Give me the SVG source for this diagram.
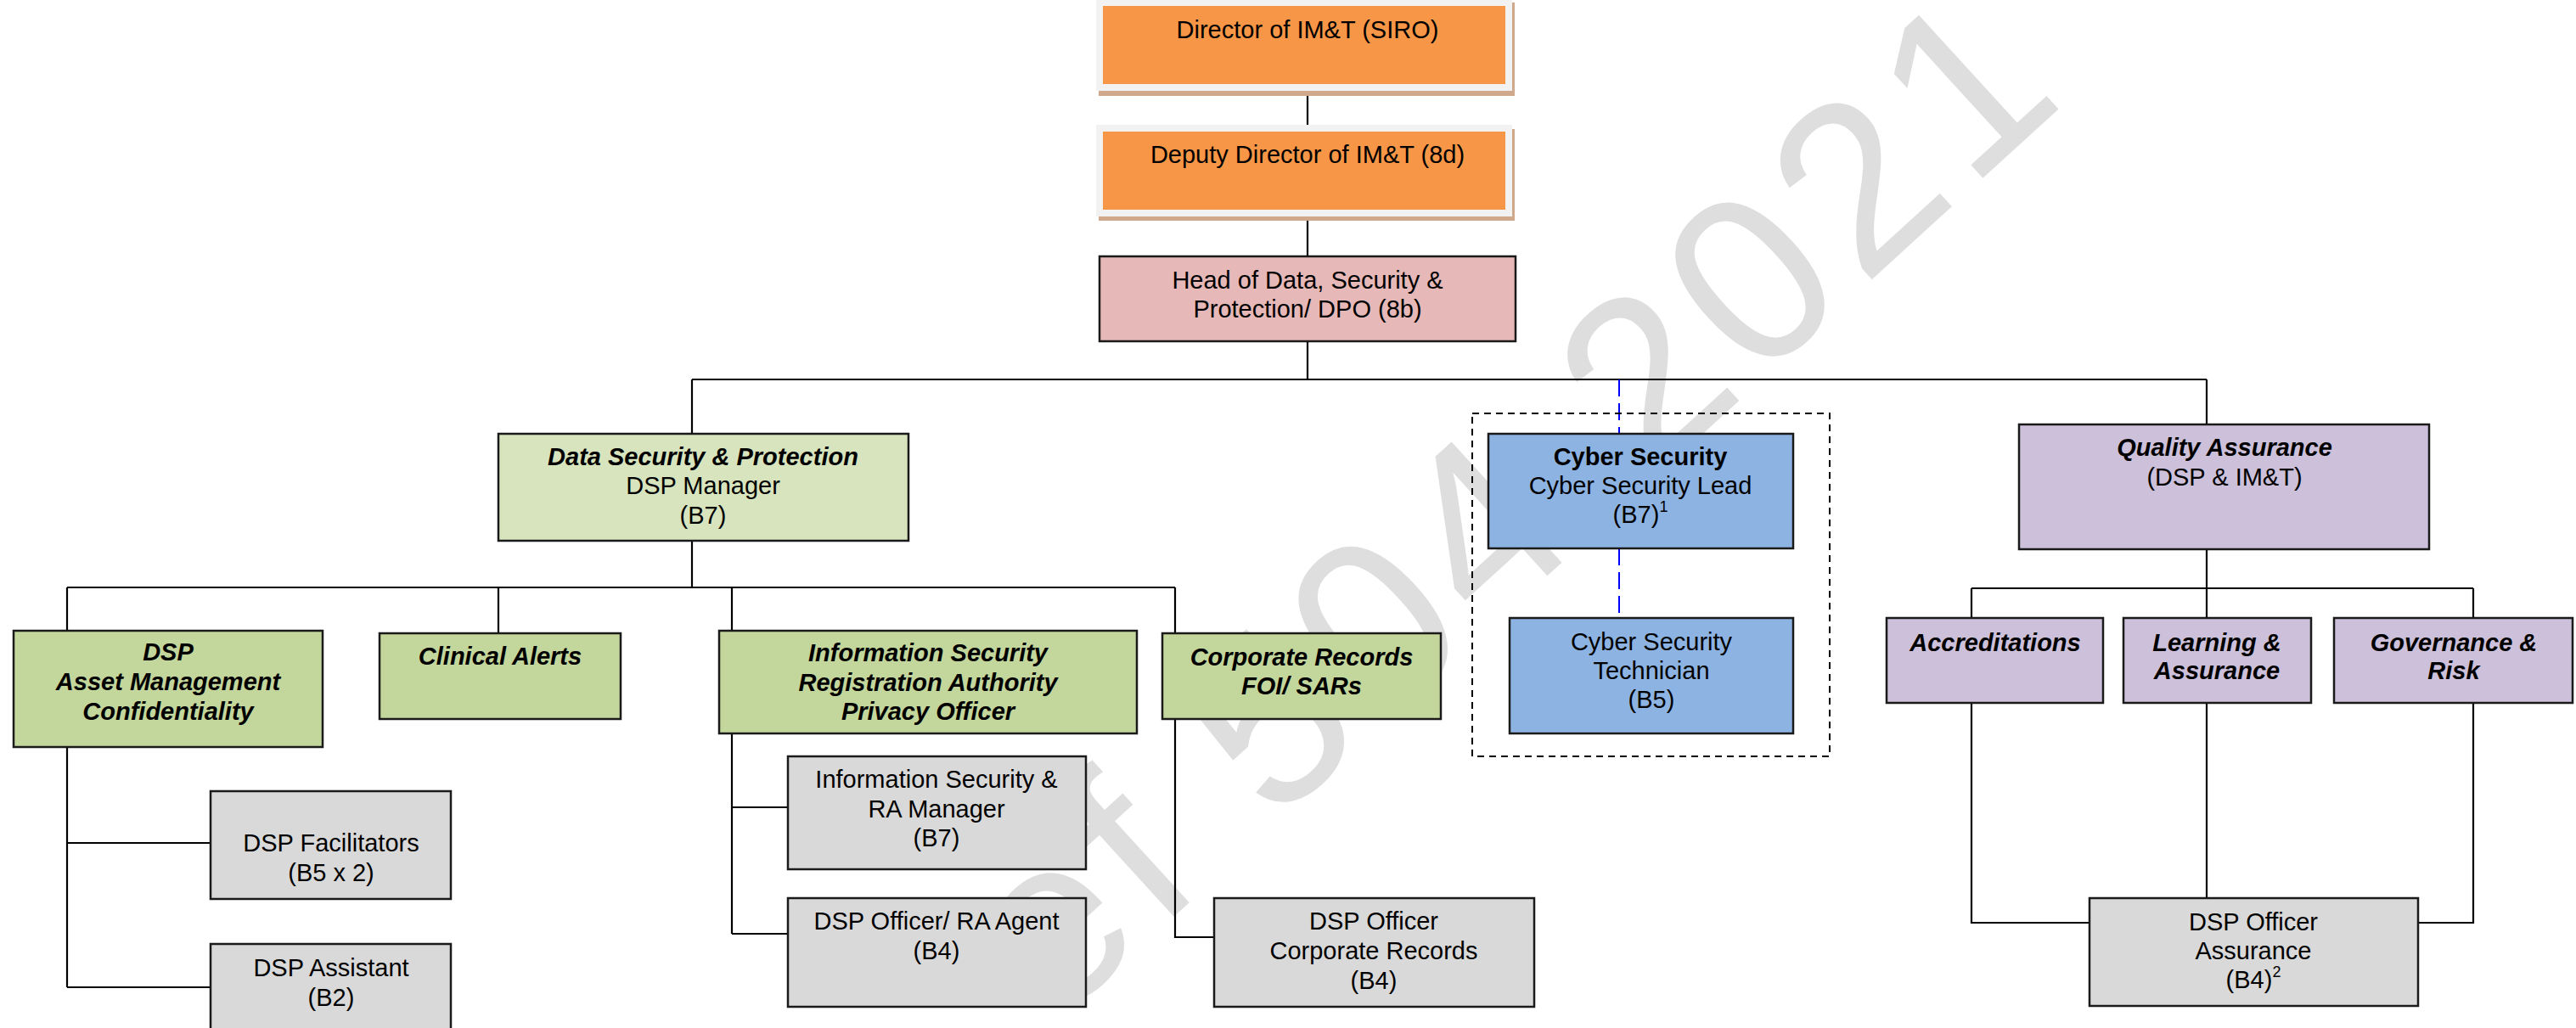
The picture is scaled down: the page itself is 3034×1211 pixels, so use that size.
<svg xmlns="http://www.w3.org/2000/svg" width="3034" height="1211" viewBox="0 0 3034 1211">
<style>
text{font-family:"Liberation Sans",Arial,sans-serif;font-size:29px;fill:#000;text-anchor:middle}
.bi{font-weight:bold;font-style:italic}
.b{font-weight:bold}
.box{stroke:#1a1a1a;stroke-width:2.5}
.or{fill:#f79646}
.pk{fill:#e6b8b7}
.lg{fill:#d7e4bd}
.gr{fill:#c3d69b}
.bl{fill:#8db3e2}
.pu{fill:#ccc0da}
.gy{fill:#d9d9d9}
.frame{fill:#f2f2f2}
.shadow{fill:#d0a98c}
.ln{stroke:#000;stroke-width:2.2;fill:none}
.dash{stroke:#0000ff;stroke-width:2;stroke-dasharray:20 8;fill:none}
.grp{stroke:#000;stroke-width:2;stroke-dasharray:8 6;fill:none}
.wm{font-size:280px;fill:#dedede;text-anchor:start;letter-spacing:14px}
.sup{font-size:18px}
</style>
<rect width="3034" height="1211" fill="#fff"/>
<g id="watermark">
<text class="wm" transform="translate(1239,1211) rotate(-42.4)">ef 504 2021</text>
</g>
<g id="connectors">
<path class="ln" d="M1540 107V147M1540 255V302M1540 402V447M815 447H2599M815 447V511M2599 447V500"/>
<path class="dash" d="M1907 447V511M1907 646V728"/>
<path class="ln" d="M815 637V692M79 692H1384M79 692V743M587 692V746M862 692V743M1384 692V746"/>
<path class="ln" d="M79 880V1163M79 993H248M79 1163H248"/>
<path class="ln" d="M862 864V1100M862 951H928M862 1100H928"/>
<path class="ln" d="M1384 847V1104H1430"/>
<path class="ln" d="M2599 647V693M2322 693H2913M2322 693V728M2599 693V728M2913 693V728"/>
<path class="ln" d="M2322 828V1087H2461M2599 828V1058M2913 828V1087H2848"/>
<rect class="grp" x="1734" y="487" width="421" height="404"/>
</g>
<g id="director">
<rect class="shadow" x="1294" y="3" width="490" height="110"/>
<rect class="frame" x="1291" y="-3" width="490" height="110"/>
<rect class="or" x="1299" y="7" width="474" height="92"/>
<text x="1540" y="45">Director of IM&amp;T (SIRO)</text>
</g>
<g id="deputy">
<rect class="shadow" x="1294" y="152" width="490" height="108"/>
<rect class="frame" x="1291" y="147" width="490" height="108"/>
<rect class="or" x="1299" y="155" width="474" height="92"/>
<text x="1540" y="192">Deputy Director of IM&amp;T (8d)</text>
</g>
<g id="head">
<rect class="box pk" x="1295" y="302" width="490" height="100"/>
<text x="1540" y="340">Head of Data, Security &amp;</text>
<text x="1540" y="374">Protection/ DPO (8b)</text>
</g>
<g id="dsp-manager">
<rect class="box lg" x="587" y="511" width="483" height="126"/>
<text x="828" y="548" class="bi">Data Security &amp; Protection</text>
<text x="828" y="582">DSP Manager</text>
<text x="828" y="617">(B7)</text>
</g>
<g id="dsp-asset">
<rect class="box gr" x="16" y="743" width="364" height="137"/>
<text x="198" y="778" class="bi">DSP</text>
<text x="198" y="813" class="bi">Asset Management</text>
<text x="198" y="848" class="bi">Confidentiality</text>
</g>
<g id="clinical-alerts">
<rect class="box gr" x="447" y="746" width="284" height="101"/>
<text x="589" y="783" class="bi">Clinical Alerts</text>
</g>
<g id="infosec">
<rect class="box gr" x="847" y="743" width="492" height="121"/>
<text x="1093" y="779" class="bi">Information Security</text>
<text x="1093" y="814" class="bi">Registration Authority</text>
<text x="1093" y="848" class="bi">Privacy Officer</text>
</g>
<g id="corporate-records">
<rect class="box gr" x="1369" y="746" width="328" height="101"/>
<text x="1533" y="784" class="bi">Corporate Records</text>
<text x="1533" y="818" class="bi">FOI/ SARs</text>
</g>
<g id="cyber-lead">
<rect class="box bl" x="1753" y="511" width="359" height="135"/>
<text x="1932" y="548" class="b">Cyber Security</text>
<text x="1932" y="582">Cyber Security Lead</text>
<text x="1932" y="616">(B7)<tspan class="sup" dy="-13">1</tspan></text>
</g>
<g id="cyber-tech">
<rect class="box bl" x="1778" y="728" width="334" height="136"/>
<text x="1945" y="766">Cyber Security</text>
<text x="1945" y="800">Technician</text>
<text x="1945" y="834">(B5)</text>
</g>
<g id="quality-assurance">
<rect class="box pu" x="2378" y="500" width="483" height="147"/>
<text x="2620" y="537" class="bi">Quality Assurance</text>
<text x="2620" y="572">(DSP &amp; IM&amp;T)</text>
</g>
<g id="accreditations">
<rect class="box pu" x="2222" y="728" width="255" height="100"/>
<text x="2350" y="767" class="bi">Accreditations</text>
</g>
<g id="learning">
<rect class="box pu" x="2501" y="728" width="221" height="100"/>
<text x="2611" y="767" class="bi">Learning &amp;</text>
<text x="2611" y="800" class="bi">Assurance</text>
</g>
<g id="governance">
<rect class="box pu" x="2749" y="728" width="281" height="100"/>
<text x="2890" y="767" class="bi">Governance &amp;</text>
<text x="2890" y="800" class="bi">Risk</text>
</g>
<g id="dsp-facilitators">
<rect class="box gy" x="248" y="932" width="283" height="127"/>
<text x="390" y="1003">DSP Facilitators</text>
<text x="390" y="1038">(B5 x 2)</text>
</g>
<g id="dsp-assistant">
<rect class="box gy" x="248" y="1112" width="283" height="125"/>
<text x="390" y="1150">DSP Assistant</text>
<text x="390" y="1185">(B2)</text>
</g>
<g id="infosec-ra-manager">
<rect class="box gy" x="928" y="891" width="351" height="133"/>
<text x="1103" y="928">Information Security &amp;</text>
<text x="1103" y="963">RA Manager</text>
<text x="1103" y="997">(B7)</text>
</g>
<g id="ra-agent">
<rect class="box gy" x="928" y="1058" width="351" height="128"/>
<text x="1103" y="1095">DSP Officer/ RA Agent</text>
<text x="1103" y="1130">(B4)</text>
</g>
<g id="dsp-officer-corporate">
<rect class="box gy" x="1430" y="1058" width="377" height="128"/>
<text x="1618" y="1095">DSP Officer</text>
<text x="1618" y="1130">Corporate Records</text>
<text x="1618" y="1165">(B4)</text>
</g>
<g id="dsp-officer-assurance">
<rect class="box gy" x="2461" y="1058" width="387" height="127"/>
<text x="2654" y="1096">DSP Officer</text>
<text x="2654" y="1130">Assurance</text>
<text x="2654" y="1164">(B4)<tspan class="sup" dy="-13">2</tspan></text>
</g>
</svg>
